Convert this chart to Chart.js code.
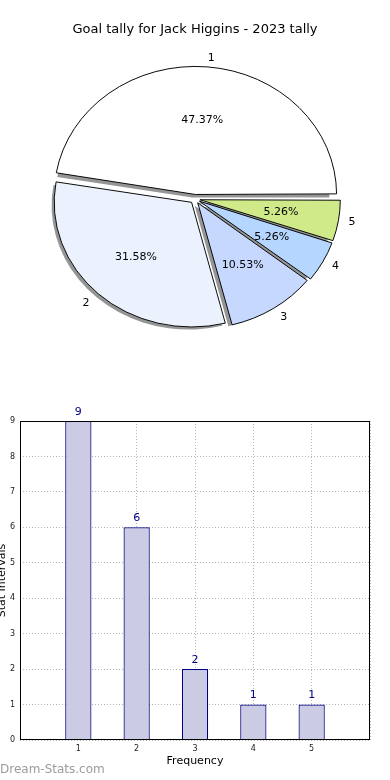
<!DOCTYPE html>
<html>
<head>
<meta charset="utf-8">
<script src="https://cdn.jsdelivr.net/npm/chart.js@4"></script>
<style>
  body { margin: 0; background: #fff; width: 390px; height: 780px; position: relative; overflow: hidden; font-family: "DejaVu Sans", sans-serif; }
  #title { position: absolute; left: 0; top: 21px; width: 390px; text-align: center; font-size: 13px; color: #000; }
  #pie { position: absolute; left: 0; top: 0; }
  #bars { position: absolute; left: 0; top: 400px; }
  #mark { position: absolute; left: 0; top: 762px; font-size: 12px; color: #9c9c9c; }
</style>
</head>
<body>
<canvas id="pie" width="390" height="400"></canvas>
<div id="title">Goal tally for Jack Higgins - 2023 tally</div>
<canvas id="bars" width="390" height="380"></canvas>
<div id="mark">Dream-Stats.com</div>
<script>
// pie data
var sliceLabels = ['1', '2', '3', '4', '5'];
var goalCounts  = [9, 6, 2, 1, 1];
var sliceColors = ['#ffffff', '#ebf2fe', '#c6d8fe', '#b5d6fe', '#d0ea8a'];

// bar data
var barCategories = [1, 2, 3, 4, 5];
var barValues     = [9, 6, 2, 1, 1];
var yTicks        = [0, 1, 2, 3, 4, 5, 6, 7, 8, 9];

var squash  = 0.907;   // pie is drawn as an ellipse
var explode = 20;      // chart.js offset (drawn as offset/4 px)

var total = goalCounts.reduce(function(a, b) { return a + b }, 0);

// chart.js draws clockwise, the original goes counter clockwise from 3 o'clock
var pieData   = goalCounts.slice().reverse();
var pieColors = sliceColors.slice().reverse();

var ellipsePie = {
  id: 'ellipsePie',
  beforeDatasetsDraw: function(chart) {
    var ctx  = chart.ctx;
    var arcs = chart.getDatasetMeta(0).data;
    var cx = arcs[0].x, cy = arcs[0].y;
    var off = explode / 4;

    // shadows first
    ctx.save();
    ctx.translate(-3, 3);
    ctx.translate(cx, cy); ctx.scale(1, squash); ctx.translate(-cx, -cy);
    ctx.fillStyle = '#959595';
    arcs.forEach(function(a) {
      var mid = (a.startAngle + a.endAngle) / 2;
      var x = a.x + Math.cos(mid) * off, y = a.y + Math.sin(mid) * off;
      ctx.beginPath();
      ctx.moveTo(x, y);
      ctx.arc(x, y, a.outerRadius, a.startAngle, a.endAngle);
      ctx.closePath();
      ctx.fill();
    });
    ctx.restore();

    ctx.save();
    ctx.translate(cx, cy); ctx.scale(1, squash); ctx.translate(-cx, -cy);
  },
  afterDatasetsDraw: function(chart) {
    var ctx  = chart.ctx;
    ctx.restore();
    var arcs = chart.getDatasetMeta(0).data;
    var cx = arcs[0].x, cy = arcs[0].y;
    var off = explode / 4;

    ctx.save();
    ctx.font = '11px "DejaVu Sans"';
    ctx.fillStyle = '#000';
    ctx.textBaseline = 'middle';
    arcs.forEach(function(a, i) {
      var k   = arcs.length - 1 - i;
      var mid = (a.startAngle + a.endAngle) / 2;
      var dx = Math.cos(mid), dy = Math.sin(mid);
      var r  = a.outerRadius;

      var pct = (goalCounts[k] / total * 100).toFixed(2) + '%';
      ctx.textAlign = 'center';
      ctx.fillText(pct, cx + (0.6 * r + off) * dx, cy + (0.6 * r + off) * dy * squash);

      ctx.textAlign = dx > 0 ? 'left' : 'right';
      ctx.fillText(sliceLabels[k], cx + (1.1 * r + off) * dx, cy + (1.1 * r + off) * dy * squash);
    });
    ctx.restore();
  }
};

new Chart(document.getElementById('pie'), {
  type: 'pie',
  data: {
    labels: sliceLabels.slice().reverse(),
    datasets: [{
      data: pieData,
      backgroundColor: pieColors,
      borderColor: '#000',
      borderWidth: 1,
      offset: explode
    }]
  },
  options: {
    responsive: false,
    animation: false,
    rotation: 90,
    layout: { padding: { left: 47.5, right: 47.5, top: 51.5, bottom: 53.5 } },
    plugins: { legend: { display: false }, tooltip: { enabled: false } }
  },
  plugins: [ellipsePie]
});

var barFrame = {
  id: 'barFrame',
  afterDraw: function(chart) {
    var ctx = chart.ctx, a = chart.chartArea;
    ctx.save();
    ctx.strokeStyle = '#000';
    ctx.lineWidth = 1;
    ctx.strokeRect(Math.round(a.left) + 0.5, Math.round(a.top) + 0.5,
                   Math.round(a.right - a.left) - 1, Math.round(a.bottom - a.top) - 1);
    ctx.restore();
  }
};

var barLabels = {
  id: 'barLabels',
  afterDatasetsDraw: function(chart) {
    var ctx = chart.ctx;
    var meta = chart.getDatasetMeta(0);
    ctx.save();
    ctx.font = '11px "DejaVu Sans"';
    ctx.fillStyle = '#00007f';
    ctx.textAlign = 'center';
    ctx.textBaseline = 'middle';
    meta.data.forEach(function(bar, i) {
      ctx.fillText(String(barValues[i]), bar.x, bar.y - 9);
    });
    ctx.restore();
  }
};

new Chart(document.getElementById('bars'), {
  type: 'bar',
  data: {
    datasets: [{
      data: barCategories.map(function(c, i) { return { x: c, y: barValues[i] } }),
      backgroundColor: '#cbcbe3',
      borderColor: '#000080',
      borderWidth: 1.2,
      barPercentage: 0.45,
      categoryPercentage: 1
    }]
  },
  options: {
    responsive: false,
    animation: false,
    layout: { padding: { left: 0, right: 20, top: 21, bottom: 0 } },
    plugins: { legend: { display: false }, tooltip: { enabled: false } },
    scales: {
      x: {
        type: 'linear',
        min: 0,
        max: barCategories.length + 1,
        offset: false,
        z: 1,
        afterFit: function(s) { s.height = 40 },
        afterBuildTicks: function(s) {
          s.ticks = [0].concat(barCategories, [barCategories.length + 1]).map(function(v) { return { value: v } });
        },
        ticks: {
          callback: function(v) { return barCategories.indexOf(v) >= 0 ? String(v) : '' },
          font: { size: 8, family: 'DejaVu Sans' },
          color: '#222',
          padding: 4,
          maxRotation: 0
        },
        grid: { color: '#b4b4b4', drawTicks: false, offset: false },
        border: { display: false, dash: [1, 2] },
        title: { display: true, text: 'Frequency', font: { size: 11, family: 'DejaVu Sans' }, color: '#000', padding: { top: 0, bottom: 12 } }
      },
      y: {
        min: yTicks[0],
        max: yTicks[yTicks.length - 1],
        z: 1,
        afterFit: function(s) { s.width = 20 },
        afterBuildTicks: function(s) {
          s.ticks = yTicks.map(function(v) { return { value: v } });
        },
        ticks: { font: { size: 8, family: 'DejaVu Sans' }, color: '#222', padding: 5 },
        grid: { color: '#b4b4b4', drawTicks: false },
        border: { display: false, dash: [1, 2] },
        title: { display: true, text: 'Stat Intervals', font: { size: 11, family: 'DejaVu Sans', lineHeight: 1 }, color: '#000', padding: { top: -3, bottom: 0 } }
      }
    }
  },
  plugins: [barFrame, barLabels]
});
</script>
</body>
</html>
